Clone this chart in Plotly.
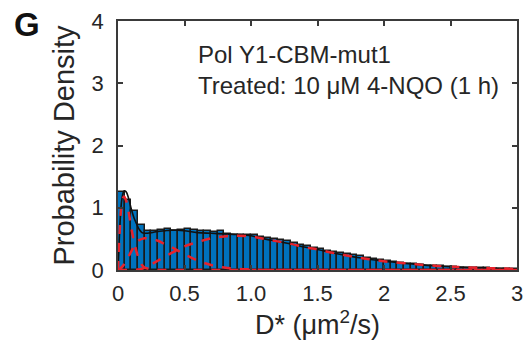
import plotly.graph_objects as go

# Histogram (bin width 0.05 µm²/s)
bin_centers = [0.025 + 0.05 * i for i in range(60)]
bin_heights = [1.25, 1.12, 0.95, 0.72, 0.63, 0.62, 0.65, 0.66, 0.63, 0.64,
               0.66, 0.64, 0.63, 0.62, 0.61, 0.63, 0.58, 0.56, 0.57, 0.56,
               0.56, 0.53, 0.52, 0.50, 0.48, 0.46, 0.44, 0.40, 0.38, 0.35,
               0.33, 0.31, 0.29, 0.27, 0.26, 0.24, 0.22, 0.19, 0.17, 0.16,
               0.14, 0.13, 0.11, 0.10, 0.09, 0.08, 0.07, 0.065, 0.06, 0.05,
               0.045, 0.04, 0.035, 0.03, 0.028, 0.025, 0.02, 0.018, 0.015, 0.012]

# Fitted curves
fit_x = [0, 0.01, 0.02, 0.03, 0.045, 0.06, 0.08, 0.1, 0.12, 0.14, 0.16, 0.18, 0.2,
         0.25, 0.3, 0.35, 0.4, 0.45, 0.5, 0.6, 0.7, 0.8, 0.9, 1.0, 1.1, 1.2, 1.3,
         1.4, 1.5, 1.6, 1.7, 1.8, 1.9, 2.0, 2.2, 2.4, 2.6, 2.8, 3.0]
comp1 = [0, 0.5, 0.9, 1.1, 1.18, 1.12, 0.93, 0.68, 0.46, 0.29, 0.16, 0.08, 0.04,
         0.01, 0, 0, 0, 0, 0, 0, 0, 0, 0, 0, 0, 0, 0,
         0, 0, 0, 0, 0, 0, 0, 0, 0, 0, 0, 0]
comp2 = [0, 0.01, 0.03, 0.05, 0.09, 0.14, 0.22, 0.30, 0.38, 0.44, 0.48, 0.50, 0.51,
         0.50, 0.47, 0.42, 0.37, 0.31, 0.25, 0.15, 0.08, 0.04, 0.02, 0.01, 0, 0, 0,
         0, 0, 0, 0, 0, 0, 0, 0, 0, 0, 0, 0]
comp3 = [0, 0, 0, 0, 0, 0, 0, 0, 0, 0.005, 0.01, 0.02, 0.04,
         0.09, 0.15, 0.21, 0.27, 0.33, 0.38, 0.45, 0.51, 0.54, 0.55, 0.54, 0.50, 0.46, 0.42,
         0.37, 0.33, 0.28, 0.24, 0.20, 0.17, 0.14, 0.10, 0.065, 0.045, 0.03, 0.015]
total = [0, 0.51, 0.93, 1.15, 1.27, 1.26, 1.15, 0.98, 0.84, 0.74, 0.65, 0.60, 0.59,
         0.60, 0.62, 0.63, 0.64, 0.64, 0.63, 0.60, 0.59, 0.58, 0.57, 0.55, 0.50, 0.46, 0.42,
         0.37, 0.33, 0.28, 0.24, 0.20, 0.17, 0.14, 0.10, 0.065, 0.045, 0.03, 0.015]

x_tickvals = [0, 0.5, 1.0, 1.5, 2.0, 2.5, 3.0]
x_ticktext = ["0", "0.5", "1.0", "1.5", "2", "2.5", "3"]
y_tickvals = [0, 1, 2, 3, 4]

BLUE = "#0072BD"
RED = "#E8222B"
AXC = "#3a3a3a"
TXT = "#262626"
FONT = "Liberation Sans, Arial, sans-serif"

fig = go.Figure()
fig.add_trace(go.Bar(x=bin_centers, y=bin_heights, width=0.05,
                     marker=dict(color=BLUE, line=dict(color="#1a1a1a", width=1.5)),
                     showlegend=False))
fig.add_trace(go.Scatter(x=fit_x, y=total, mode="lines",
                         line=dict(color="#111111", width=1.6, shape="spline"),
                         showlegend=False))
for comp in (comp1, comp2, comp3):
    fig.add_trace(go.Scatter(x=fit_x, y=comp, mode="lines",
                             line=dict(color=RED, width=2.5, dash="dash", shape="spline"),
                             showlegend=False))

axis_common = dict(showgrid=False, zeroline=False, showline=True, linecolor=AXC,
                   linewidth=1.5, mirror="ticks", ticks="inside", ticklen=5,
                   tickcolor=AXC, tickwidth=1.5,
                   tickfont=dict(family=FONT, size=22, color=TXT))

fig.update_layout(
    width=529, height=345,
    margin=dict(l=118, r=6, t=21, b=75),
    paper_bgcolor="white", plot_bgcolor="white",
    bargap=0,
    font=dict(family=FONT, color=TXT),
    xaxis=dict(range=[0, 3], tickvals=x_tickvals, ticktext=x_ticktext,
               ticklabelstandoff=3,
               title=dict(text="D* (μm<sup>2</sup>/s)", font=dict(family=FONT, size=27, color=TXT),
                          standoff=4),
               **axis_common),
    yaxis=dict(range=[0, 4], tickvals=y_tickvals, ticklabelstandoff=8,
               title=dict(text="Probability Density", font=dict(family=FONT, size=29, color=TXT),
                          standoff=8),
               **axis_common),
    annotations=[
        dict(text="Pol Y1-CBM-mut1<br>Treated: 10 μM 4-NQO (1 h)", x=0.585, y=3.22,
             xref="x", yref="y", xanchor="left", yanchor="middle", align="left",
             showarrow=False, font=dict(family=FONT, size=24, color=TXT)),
        dict(text="<b>G</b>", x=(26 - 118) / 405, y=(270 - 25) / 249,
             xref="paper", yref="paper", xanchor="center", yanchor="middle",
             showarrow=False, font=dict(family=FONT, size=33, color="#111111")),
    ],
)

fig.write_html("out.html")
